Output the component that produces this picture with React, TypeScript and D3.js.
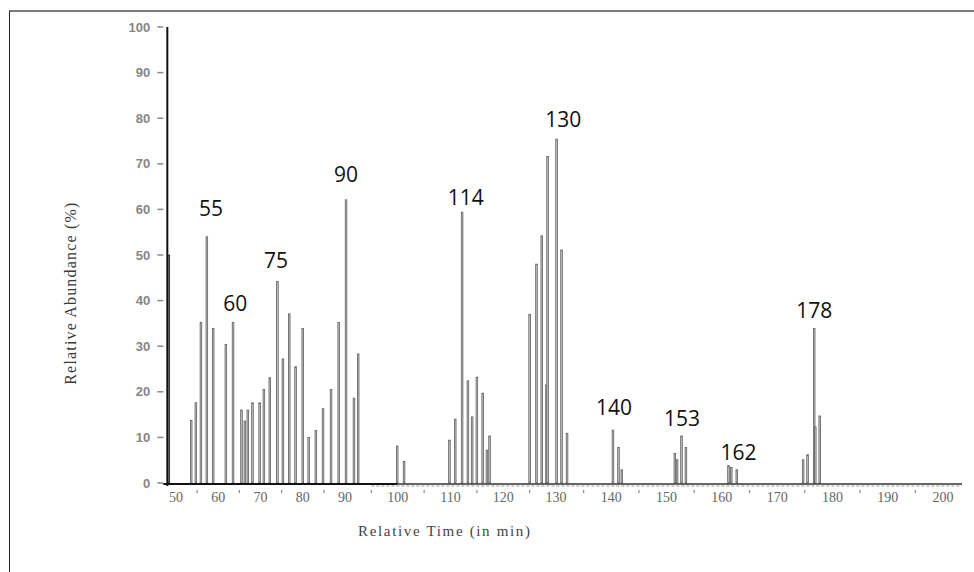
import React from 'react';
import * as d3 from 'd3';

// chromatogram peaks (relative time in min, relative abundance in %)
const peakTimes = [
  48.3, 53.6, 54.7, 55.9, 57.3, 58.8, 61.8, 63.5, 65.5, 66.3, 67.0, 68.1, 69.8, 70.8, 72.2,
  74.0, 75.3, 76.8, 78.3, 80.0, 81.4, 83.1, 84.8, 86.7, 88.5, 90.2, 91.7, 92.5,
  99.9, 101.2, 109.8, 110.9, 112.2, 113.3, 114.1, 115.0, 116.1, 116.9, 117.4,
  125.0, 126.3, 127.3, 128.2, 128.4, 130.1, 131.0, 132.0,
  140.3, 141.3, 141.9, 151.5, 151.9, 152.7, 153.5, 161.2, 161.7, 162.7,
  174.7, 175.5, 176.7, 176.9, 177.7,
];
const peakAbundance = [
  50, 13.7, 17.6, 35.2, 54.0, 33.9, 30.4, 35.2, 16.0, 13.6, 16.0, 17.6, 17.6, 20.5, 23.1,
  44.2, 27.2, 37.1, 25.5, 33.9, 10.0, 11.5, 16.3, 20.5, 35.2, 62.1, 18.6, 28.3,
  8.1, 4.7, 9.4, 14.0, 59.4, 22.4, 14.5, 23.2, 19.7, 7.2, 10.3,
  37.0, 48.0, 54.2, 21.5, 71.6, 75.4, 51.1, 10.9,
  11.6, 7.8, 2.9, 6.5, 5.1, 10.3, 7.8, 3.8, 3.4, 2.9,
  5.1, 6.2, 33.9, 12.3, 14.7,
];

// annotations written over the main peaks
const annotationText = ['55', '60', '75', '90', '114', '130', '140', '153', '162', '178'];
const annotationTime = [58.3, 64.0, 73.7, 90.2, 112.9, 131.3, 140.5, 152.8, 163.0, 176.7];
const annotationLevel = [58.6, 37.7, 47.1, 66.0, 61.0, 78.1, 14.9, 12.5, 5.0, 36.2];

const xTicks = d3.range(50, 201, 10);
const yTicks = d3.range(0, 101, 10);

const W = 974;
const H = 572;

export default function App() {
  // the scanned axis is not evenly spaced, so use a piecewise scale
  const x = d3.scaleLinear().domain([50, 90, 130, 200]).range([176, 345, 556, 943]);
  const y = d3.scaleLinear().domain([0, 100]).range([483, 27]);
  const axisX = x(48.3) - 1.5;

  return (
    <svg
      width={W}
      height={H}
      style={{ position: 'absolute', left: 0, top: 0, background: '#fff' }}
    >
      {/* frame of the figure */}
      <line x1={9} x2={W} y1={11} y2={11} stroke="#7a7a7a" strokeWidth={2} />
      <line x1={9.5} x2={9.5} y1={11} y2={H} stroke="#222" strokeWidth={1} />

      {/* peaks */}
      <g>
        {peakTimes.map((t, i) => (
          <rect
            key={i}
            x={x(t) - 0.8}
            y={y(peakAbundance[i])}
            width={1.6}
            height={y(0) - y(peakAbundance[i])}
            fill="#c8c8c8"
            stroke={i === 0 ? '#111' : '#5e5e5e'}
            strokeWidth={0.8}
          />
        ))}
      </g>

      {/* y axis */}
      <line x1={axisX} x2={axisX} y1={y(100)} y2={y(0) + 3} stroke="#111" strokeWidth={2} />
      {yTicks.map(v => (
        <g key={v}>
          <line x1={axisX - 10} x2={axisX - 4} y1={y(v)} y2={y(v)} stroke="#8a8a8a" strokeWidth={1.5} />
          <text
            x={axisX - 17}
            y={y(v)}
            dy="0.35em"
            textAnchor="end"
            fontFamily="Liberation Sans, Arial, sans-serif"
            fontSize={13}
            fontWeight={700}
            fill="#858585"
          >
            {v}
          </text>
        </g>
      ))}

      {/* x axis */}
      <line x1={axisX - 4} x2={x(100)} y1={y(0) + 1} y2={y(0) + 1} stroke="#111" strokeWidth={2} />
      <line x1={x(100)} x2={962} y1={y(0) + 1} y2={y(0) + 1} stroke="#333" strokeWidth={1.5} />
      <line x1={x(95)} x2={962} y1={y(0) + 3} y2={y(0) + 3} stroke="#999" strokeWidth={1} strokeDasharray="3 2" />
      {xTicks.map(v => (
        <g key={v}>
          <text
            x={x(v)}
            y={y(0) + 19}
            textAnchor="middle"
            fontFamily="Liberation Serif, Times New Roman, serif"
            fontSize={14}
            fill="#666"
          >
            {v}
          </text>
          {v < 200 && (
            <line
              x1={x(v + 5)}
              x2={x(v + 5)}
              y1={y(0) + 7}
              y2={y(0) + 10}
              stroke="#888"
              strokeWidth={1.2}
            />
          )}
        </g>
      ))}

      {/* axis titles */}
      <text
        x={444}
        y={536}
        textAnchor="middle"
        fontFamily="Liberation Serif, Times New Roman, serif"
        fontSize={15}
        fill="#444"
        textLength={172}
      >
        Relative Time (in min)
      </text>
      <text
        transform={`translate(76,${(y(25) + y(58)) / 2}) rotate(-90)`}
        textAnchor="middle"
        fontFamily="Liberation Serif, Times New Roman, serif"
        fontSize={16}
        fill="#3a3a3a"
        textLength={182}
      >
        Relative Abundance (%)
      </text>

      {/* peak annotations */}
      {annotationText.map((t, i) => (
        <text
          key={t}
          x={x(annotationTime[i])}
          y={y(annotationLevel[i])}
          textAnchor="middle"
          fontFamily="Open Sans, Noto Sans, sans-serif"
          fontSize={21}
          fill="#111"
        >
          {t}
        </text>
      ))}
    </svg>
  );
}
